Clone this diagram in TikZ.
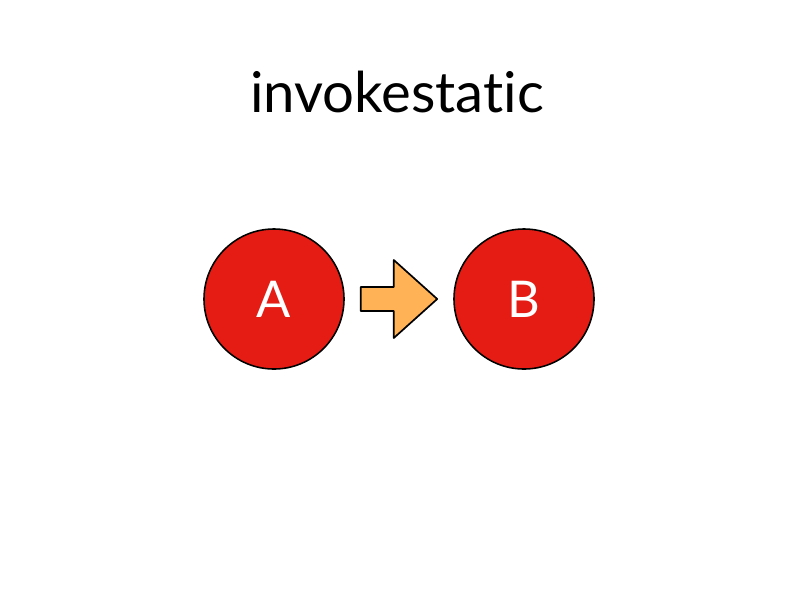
\documentclass[tikz,border=0pt]{standalone}
\usepackage{fontspec}
\setmainfont{Lato}[Ligatures=CommonOff]
\usetikzlibrary{calc}
\definecolor{nutdo}{RGB}{228,28,20}
\definecolor{muiten}{RGB}{255,178,86}
\tikzset{
	vong/.style={circle, draw=black, line width=1.1pt, fill=nutdo, minimum size=3.5cm, inner sep=0pt,
		text=white, font=\fontsize{36}{40}\selectfont},
}
\begin{document}
\begin{tikzpicture}[x=0.025cm, y=-0.025cm, line join=round, line cap=round]
	\useasboundingbox (0,0) rectangle (800,600);
	%% Khai bao diem
	\path 
	(274,299) coordinate (tA)
	(524,299) coordinate (tB)
	(397,112) coordinate (T)
	;
	%% tieu de
	\node[anchor=base, font=\fontsize{40}{48}\selectfont] (tieude) at (T) {invokestatic};
	%% ve hai vong tron
	\foreach \x in {A,B}
	\node[vong] (\x) at (t\x) {\x};
	%% mui ten
	\draw[fill=muiten, line width=1.2pt] ($(A.east)+(16,-12)$) coordinate (m1)
		-- ++(33,0) -- ++(0,-27) -- ($(B.west)+(-16,0)$) coordinate (m2)
		-- ($(A.east)+(49,39)$) -- ++(0,-27) -- ++(-33,0) -- cycle;
\end{tikzpicture}
\end{document}
